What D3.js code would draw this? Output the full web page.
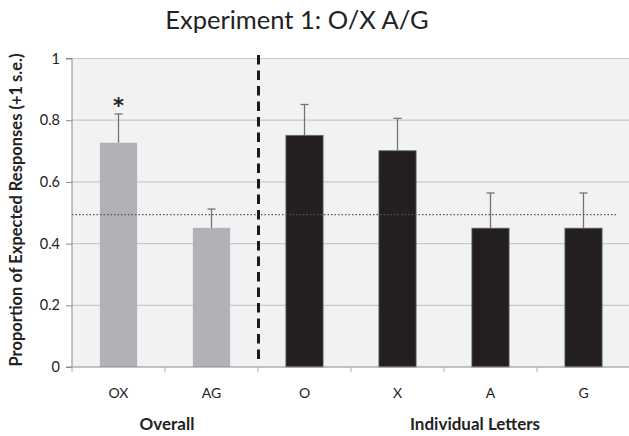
<!DOCTYPE html>
<html><head><meta charset="utf-8">
<script src="https://cdn.jsdelivr.net/npm/d3@7"></script>
<style>body{margin:0;background:#fff}svg{display:block}</style>
</head><body>
<svg id="c" width="629" height="436"></svg>
<script>
const categories = ["OX","AG","O","X","A","G"];
const values = [0.727, 0.451, 0.751, 0.701, 0.450, 0.450];
const errors = [0.093, 0.061, 0.100, 0.105, 0.114, 0.114];
const groups = ["overall","overall","letter","letter","letter","letter"];
const yTicks = [0, 0.2, 0.4, 0.6, 0.8, 1];
const chance = 0.494;
const groupLabels = ["Overall","Individual Letters"];
const significant = ["OX"];

const FONT = "Lato, 'Open Sans', sans-serif";
const svg = d3.select("#c");
const L = 72, R = 630, T = 58.5, B = 367;
const x = d3.scaleBand().domain(categories).range([L, R]).paddingInner(0.6).paddingOuter(0.3);
const y = d3.scaleLinear().domain([0, 1]).range([B, T]);

svg.append("rect").attr("x", L).attr("y", T).attr("width", 629 - L).attr("height", B - T).attr("fill", "#f1f2f4");

// gridlines
svg.append("g").selectAll("line").data(yTicks.filter(d => d > 0)).join("line")
  .attr("x1", L).attr("x2", 629).attr("y1", d => y(d)).attr("y2", d => y(d))
  .attr("stroke", "#c9c9cb").attr("stroke-width", 1.2);

// bars
svg.append("g").selectAll("rect").data(categories).join("rect")
  .attr("x", d => x(d)).attr("width", x.bandwidth())
  .attr("y", (d, i) => y(values[i])).attr("height", (d, i) => B - y(values[i]))
  .attr("fill", (d, i) => groups[i] === "overall" ? "#b1b2b6" : "#231f20")
  .attr("stroke", (d, i) => groups[i] === "overall" ? "none" : "#6a6a6a")
  .attr("stroke-width", 0.8);

// error bars
const eb = svg.append("g").attr("stroke", "#737373").attr("stroke-width", 1.3);
categories.forEach((d, i) => {
  const cx = x(d) + x.bandwidth() / 2;
  eb.append("line").attr("x1", cx).attr("x2", cx).attr("y1", y(values[i])).attr("y2", y(values[i] + errors[i]));
  eb.append("line").attr("x1", cx - 4).attr("x2", cx + 4).attr("y1", y(values[i] + errors[i])).attr("y2", y(values[i] + errors[i]));
});

// chance line
svg.append("line").attr("x1", L).attr("x2", 616).attr("y1", y(chance)).attr("y2", y(chance))
  .attr("stroke", "#555").attr("stroke-width", 1.4).attr("stroke-dasharray", "1.5,2");

// axes
const yAxis = d3.axisLeft(y).tickValues(yTicks).tickSize(6).tickFormat(d3.format("~g"));
const gy = svg.append("g").attr("transform", `translate(${L},0)`).call(yAxis);
gy.select(".domain").attr("stroke", "#8a8a8a").attr("d", `M-6,${T}H0V${B}H-6`);
gy.selectAll(".tick line").attr("stroke", "#8a8a8a");
gy.selectAll(".tick text").attr("font-family", FONT).attr("font-size", 14.5).attr("fill", "#222").attr("x", -12);

const gx = svg.append("g").attr("transform", `translate(0,${B})`);
gx.append("line").attr("x1", L).attr("x2", 629).attr("stroke", "#8a8a8a").attr("stroke-width", 1.2);
const edges = categories.map(d => x(d) - x.step() * x.paddingInner() / 2);
gx.selectAll(".tk").data(edges).join("line").attr("class", "tk")
  .attr("x1", d => d).attr("x2", d => d).attr("y1", 0).attr("y2", 5).attr("stroke", "#b0b0b0");
gx.selectAll("text").data(categories).join("text")
  .attr("x", d => x(d) + x.bandwidth() / 2).attr("y", 31)
  .attr("text-anchor", "middle").attr("font-family", FONT).attr("font-size", 14).attr("fill", "#222")
  .text(d => d);

// group labels
const g1 = [x("OX"), x("AG") + x.bandwidth()];
svg.append("text").attr("x", (g1[0] + g1[1]) / 2 + 2).attr("y", 430).attr("text-anchor", "middle")
  .attr("font-family", FONT).attr("font-weight", "bold").attr("font-size", 17).attr("fill", "#222").text(groupLabels[0]);
svg.append("text").attr("x", (x("X") + x("A") + x.bandwidth()) / 2 + 31).attr("y", 430).attr("text-anchor", "middle")
  .attr("font-family", FONT).attr("font-weight", "bold").attr("font-size", 17).attr("fill", "#222").text(groupLabels[1]);

// divider
const divX = (x("AG") + x.bandwidth() + x("O")) / 2 + 0.5;
svg.append("line").attr("x1", divX).attr("x2", divX).attr("y1", 55).attr("y2", 361)
  .attr("stroke", "#1a1a1a").attr("stroke-width", 3).attr("stroke-dasharray", "9.5,6");

// significance star
significant.forEach(s => {
  const i = categories.indexOf(s);
  svg.append("text").attr("x", x(s) + x.bandwidth() / 2).attr("y", y(values[i] + errors[i]) - 1)
    .attr("text-anchor", "middle").attr("font-family", "DejaVu Sans, sans-serif").attr("font-weight", "bold")
    .attr("font-size", 21).attr("fill", "#222").text("*");
});

// y label
svg.append("text").attr("transform", "translate(22,210) rotate(-90)").attr("text-anchor", "middle")
  .attr("font-family", FONT).attr("font-weight", "bold").attr("font-size", 16.5).attr("fill", "#222")
  .text("Proportion of Expected Responses (+1 s.e.)");

// title
svg.append("text").attr("x", 297).attr("y", 29).attr("text-anchor", "middle")
  .attr("font-family", FONT).attr("font-size", 25.5).attr("fill", "#222")
  .text("Experiment 1: O/X A/G");
</script>
</body></html>
